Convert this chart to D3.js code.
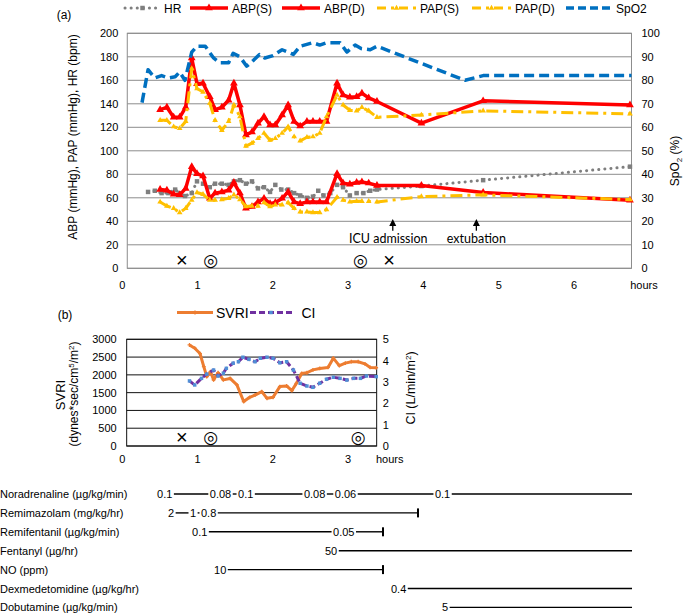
<!DOCTYPE html>
<html><head><meta charset="utf-8">
<script src="https://cdn.jsdelivr.net/npm/d3@7"></script>
<style>
body{margin:0;background:#fff}
svg{display:block;font-family:"Liberation Sans",Arial,sans-serif}
</style>
</head><body>
<svg id="c" width="685" height="613"></svg>
<script>
// ---------- DATA ----------
const xTicks = [0, 1, 2, 3, 4, 5, 6];
const xTicksB = [0, 1, 2, 3];
const yTicksA = [0, 20, 40, 60, 80, 100, 120, 140, 160, 180, 200];
const yTicksA2 = [0, 10, 20, 30, 40, 50, 60, 70, 80, 90, 100];
const yTicksB = [0, 500, 1000, 1500, 2000, 2500, 3000];
const yTicksB2 = [0, 1, 2, 3, 4, 5];

const hrTime = [0.35,0.44,0.53,0.62,0.71,0.77,0.84,0.93,1.00,1.08,1.17,1.24,1.33,1.42,1.49,1.57,1.65,1.73,1.81,1.89,1.97,2.04,2.12,2.21,2.29,2.37,2.46,2.54,2.61,2.68,2.77,2.86,2.94,3.03,3.12,3.21,3.30,3.39,3.98,4.80,6.75];
const hrValue = [65,66,64,64,67,64,61.5,64,74,72,69,72,72,71,74,75,72,74,68,69,65,71,67,67,64,62,60,61,66,62,64,71,69,62,64,64,66,67,70,75,86.5];

const abpTime = [0.51,0.60,0.69,0.77,0.85,0.93,1.00,1.08,1.17,1.24,1.33,1.42,1.49,1.57,1.65,1.73,1.81,1.89,1.97,2.04,2.13,2.21,2.29,2.37,2.46,2.54,2.63,2.72,2.86,2.94,3.03,3.12,3.19,3.28,3.39,3.98,4.80,6.75];
const abpSys = [135,137,128.5,128.5,137,179,157,157.5,146,135,137,143,157.5,139,113.5,116,123.5,129,122,122,130.5,139,125,121,125,125,125,125,157.5,147.5,145.5,146,149,145,142,123.5,142.5,139];
const abpDia = [67,66.5,63,62.5,68,86.5,80.5,78.5,59.5,64,65,66.5,73,64,51,52.5,56.5,59.5,55,56,59.5,65,56.5,55,56.5,56.5,56.5,56.5,80.5,72.5,71.5,73,73.5,72.5,70.5,70.5,64.5,58];
const papSys = [126,126,120.5,119,125,170,153,150,140.5,126,117.5,125,139,129,104,106.5,110.5,115,109,110.5,115,120.5,112,108.5,111.5,112,115,129,147.5,139,134.5,134,137,134,128.5,130.5,134,131.5];
const papDia = [56.5,53,51,47.5,51,58,64.5,63,58,58,58.5,59.5,62.5,58.5,52.5,53,53,56,52.5,54,54,56,51,48,48,47.5,47.5,50,60.5,58,56.5,57,57,57,56.5,61,62.5,58.5];

const spo2Time = [0.27,0.35,0.44,0.53,0.62,0.71,0.77,0.84,0.93,1.00,1.11,1.22,1.30,1.42,1.48,1.57,1.66,1.75,1.83,1.90,2.01,2.13,2.28,2.37,2.54,2.63,2.72,2.90,2.99,3.10,3.18,3.30,3.39,4.56,4.80,6.77];
const spo2Value = [70.5,84.5,81,82,81,81.5,83.5,80,92,94.5,94.5,89.5,87.5,87.5,91.5,90,86,88.5,91,89.5,90.5,93,91,94.5,96,95,96,96,92,95,93.5,93,94.5,80,82,82];

const svriTime = [0.90,0.97,1.04,1.09,1.13,1.18,1.22,1.28,1.35,1.44,1.53,1.62,1.70,1.77,1.86,1.93,2.01,2.10,2.19,2.26,2.32,2.39,2.46,2.54,2.63,2.74,2.81,2.89,2.97,3.05,3.14,3.23,3.30,3.38];
const svriValue = [2840,2750,2600,2230,1950,2090,1860,2060,1860,1900,1720,1250,1370,1430,1530,1340,1370,1670,1690,1560,1760,2040,2060,2140,2180,2210,2470,2260,2330,2370,2370,2310,2210,2200];
const ciTime = [0.90,0.97,1.06,1.13,1.22,1.28,1.35,1.39,1.48,1.55,1.61,1.69,1.77,1.84,1.93,2.01,2.10,2.19,2.28,2.37,2.46,2.54,2.63,2.72,2.81,2.90,2.99,3.08,3.17,3.25,3.38];
const ciValue = [3.05,2.86,3.17,3.37,3.56,3.28,3.41,3.64,3.88,3.95,4.16,4.06,3.95,4.11,4.16,4.11,3.90,3.95,3.56,2.94,2.81,2.75,2.94,3.13,3.22,3.17,3.09,3.17,3.17,3.28,3.25];

// event markers (time)
const crossTimesA = [0.80, 3.55];
const circleTimesA = [1.18, 3.17];
const crossTimesB = [0.80];
const circleTimesB = [1.18, 3.14];
const eventLabels = ["ICU admission", "extubation"];
const eventTimes = [3.60, 4.71];

// drug timeline
const drugNames = ["Noradrenaline (\u00b5g/kg/min)","Remimazolam (mg/kg/hr)","Remifentanil (\u00b5g/kg/min)","Fentanyl (\u00b5g/hr)","NO (ppm)","Dexmedetomidine (\u00b5g/kg/hr)","Dobutamine (\u00b5g/kg/min)"];
const drugDoses = [["0.1","0.08","0.1","0.08","0.06","0.1"],["2","1","0.8"],["0.1","0.05"],["50"],["10"],["0.4"],["5"]];
const drugDoseTimes = [[0.47,1.17,1.545,2.42,2.83,4.16],[0.615,0.907,1.053],[0.934,2.807],[2.70],[1.226],[3.576],[4.254]];
const drugEndTimes = [6.777,3.935,3.47,6.777,3.47,6.777,6.777];
const drugStopped = [false,true,true,false,true,false,false];

// ---------- DRAW ----------
const svg = d3.select("#c");
const FONT = '"Liberation Sans",Arial,sans-serif';
const x = d3.scaleLinear().domain([0, 7]).range([121.7, 648.8]);
const fmt = d3.format("d");

const colHR = "#7f7f7f", colABP = "#ff0000", colPAP = "#ffc000", colSpO2 = "#0070c0";
const colSVRI = "#ed7d31", colCI = "#7030a0", colCImk = "#4f8fd6";

// ===== Panel (a) =====
const A = {l: x(0.074), r: x(6.77), t: 33.3, b: 268.3};
const yA = d3.scaleLinear().domain([0, 200]).range([A.b, A.t]);
const yA2 = d3.scaleLinear().domain([0, 100]).range([A.b, A.t]);

const gA = svg.append("g");
gA.selectAll("line.grid").data(yTicksA).join("line")
  .attr("x1", A.l).attr("x2", A.r).attr("y1", d => yA(d)).attr("y2", d => yA(d))
  .attr("stroke", "#8c8c8c").attr("stroke-width", 1);
gA.append("rect").attr("x", A.l).attr("y", A.t).attr("width", A.r - A.l).attr("height", A.b - A.t)
  .attr("fill", "none").attr("stroke", "#8c8c8c").attr("stroke-width", 1);

function styleAxis(g, size) {
  g.select(".domain").remove();
  g.selectAll(".tick line").remove();
  g.selectAll("text").attr("font-family", FONT).attr("font-size", size).attr("fill", "#000");
}
gA.append("g").attr("transform", `translate(${A.l},0)`)
  .call(d3.axisLeft(yA).tickValues(yTicksA).tickFormat(fmt).tickSize(0).tickPadding(9)).call(g => styleAxis(g, 11));
gA.append("g").attr("transform", `translate(${A.r},0)`)
  .call(d3.axisRight(yA2).tickValues(yTicksA2).tickFormat(fmt).tickSize(0).tickPadding(10)).call(g => styleAxis(g, 11));
gA.append("g").attr("transform", `translate(0,${A.b})`)
  .call(d3.axisBottom(x).tickValues(xTicks).tickFormat(fmt).tickSize(0).tickPadding(13)).call(g => styleAxis(g, 11));
gA.append("text").attr("x", A.r + 12.5).attr("y", 289).attr("text-anchor", "middle")
  .attr("font-size", 11).text("hours");

// titles
gA.append("text").attr("transform", "translate(77,137) rotate(-90)").attr("text-anchor", "middle")
  .attr("font-size", 12).text("ABP (mmHg), PAP (mmHg), HR (bpm)");
const spT = gA.append("text").attr("transform", "translate(679,161) rotate(-90)").attr("text-anchor", "middle")
  .attr("font-size", 12);
spT.append("tspan").text("SpO");
spT.append("tspan").attr("font-size", 8).attr("dy", 3).text("2");
spT.append("tspan").attr("dy", -3).text(" (%)");
gA.append("text").attr("x", 64).attr("y", 19).attr("text-anchor", "middle").attr("font-size", 12).text("(a)");

const zip = (t, v) => t.map((d, i) => [d, v[i]]);
const lineA = d3.line().x(d => x(d[0])).y(d => yA(d[1]));
const lineA2 = d3.line().x(d => x(d[0])).y(d => yA2(d[1]));

function series(g, pts, gen, opt) {
  g.append("path").datum(pts).attr("d", gen).attr("fill", "none")
    .attr("stroke", opt.color).attr("stroke-width", opt.width)
    .attr("stroke-dasharray", opt.dash || null).attr("stroke-linecap", opt.cap || "butt")
    .attr("stroke-linejoin", "round");
  if (opt.symbol) {
    g.selectAll(null).data(pts).join("path")
      .attr("transform", d => `translate(${gen.x()(d)},${gen.y()(d)})`)
      .attr("d", d3.symbol(opt.symbol, opt.size)).attr("fill", opt.mcolor || opt.color);
  }
}
series(gA, zip(hrTime, hrValue), lineA, {color: colHR, width: 3, dash: "0.1,6", cap: "round", symbol: d3.symbolSquare, size: 20});
series(gA, zip(abpTime, abpSys), lineA, {color: colABP, width: 3.5, symbol: d3.symbolTriangle, size: 26});
series(gA, zip(abpTime, abpDia), lineA, {color: colABP, width: 3.5, symbol: d3.symbolTriangle, size: 26});
series(gA, zip(abpTime, papSys), lineA, {color: colPAP, width: 3, dash: "12,5,3,5", symbol: d3.symbolTriangle, size: 14});
series(gA, zip(abpTime, papDia), lineA, {color: colPAP, width: 3, dash: "12,5,3,5", symbol: d3.symbolTriangle, size: 14});
series(gA, zip(spo2Time, spo2Value), lineA2, {color: colSpO2, width: 3.5, dash: "10,5"});

// event arrows
eventTimes.forEach(t => {
  const ax = x(t);
  gA.append("line").attr("x1", ax).attr("x2", ax).attr("y1", yA(32)).attr("y2", yA(38))
    .attr("stroke", "#000").attr("stroke-width", 1.3);
  gA.append("path").attr("d", `M${ax},${yA(42)} L${ax - 3.5},${yA(36)} L${ax + 3.5},${yA(36)} Z`).attr("fill", "#000");
});
gA.append("text").attr("x", x(3.54)).attr("y", yA(21.5)).attr("text-anchor", "middle")
  .attr("font-family", "Lato, 'Open Sans', sans-serif").attr("font-size", 12.5).text(eventLabels[0]);
gA.append("text").attr("x", x(4.71)).attr("y", yA(21.5)).attr("text-anchor", "middle")
  .attr("font-family", "Lato, 'Open Sans', sans-serif").attr("font-size", 12.5).text(eventLabels[1]);

function marks(g, times, yPos, ch, font, size) {
  g.selectAll(null).data(times).join("text")
    .attr("x", d => x(d)).attr("y", yPos).attr("text-anchor", "middle").attr("dominant-baseline", "central")
    .attr("font-family", font).attr("font-size", size).text(ch);
}
marks(gA, crossTimesA, yA(7), "\u00d7", FONT, 20);
marks(gA, circleTimesA, yA(7), "\u25ce", "'DejaVu Sans','Noto Sans CJK JP'", 17);

// legend (a)
const legA = svg.append("g");
const legItems = [
  {name: "HR", x0: 125, x1: 160, color: colHR, w: 3, dash: "0.1,6", cap: "round", sym: d3.symbolSquare, size: 20},
  {name: "ABP(S)", x0: 190, x1: 228, color: colABP, w: 3.5, sym: d3.symbolTriangle, size: 26},
  {name: "ABP(D)", x0: 282, x1: 320, color: colABP, w: 3.5, sym: d3.symbolTriangle, size: 26},
  {name: "PAP(S)", x0: 377, x1: 416, color: colPAP, w: 3, dash: "9,5,3,5", sym: d3.symbolTriangle, size: 14},
  {name: "PAP(D)", x0: 472, x1: 511, color: colPAP, w: 3, dash: "9,5,3,5", sym: d3.symbolTriangle, size: 14},
  {name: "SpO2", x0: 566, x1: 612, color: colSpO2, w: 3.5, dash: "8,4"}
];
legItems.forEach(it => {
  legA.append("line").attr("x1", it.x0).attr("x2", it.x1).attr("y1", 8).attr("y2", 8)
    .attr("stroke", it.color).attr("stroke-width", it.w).attr("stroke-dasharray", it.dash || null)
    .attr("stroke-linecap", it.cap || "butt");
  if (it.sym) legA.append("path").attr("transform", `translate(${(it.x0 + it.x1) / 2},8)`)
    .attr("d", d3.symbol(it.sym, it.size)).attr("fill", it.color);
  legA.append("text").attr("x", it.x1 + 4).attr("y", 12.5).attr("font-size", 12).text(it.name);
});

// ===== Panel (b) =====
const B = {l: x(0.066), r: x(3.386), t: 339.3, b: 446};
const yB = d3.scaleLinear().domain([0, 3000]).range([B.b, B.t]);
const yB2 = d3.scaleLinear().domain([0, 5]).range([B.b, B.t]);
const gB = svg.append("g");
gB.selectAll("line.grid").data(yTicksB).join("line")
  .attr("x1", B.l).attr("x2", B.r).attr("y1", d => yB(d)).attr("y2", d => yB(d))
  .attr("stroke", "#111").attr("stroke-width", 1);
gB.append("rect").attr("x", B.l).attr("y", B.t).attr("width", B.r - B.l).attr("height", B.b - B.t)
  .attr("fill", "none").attr("stroke", "#111").attr("stroke-width", 1);
gB.append("g").attr("transform", `translate(${B.l},0)`)
  .call(d3.axisLeft(yB).tickValues(yTicksB).tickFormat(fmt).tickSize(0).tickPadding(10)).call(g => styleAxis(g, 11));
gB.append("g").attr("transform", `translate(${B.r},0)`)
  .call(d3.axisRight(yB2).tickValues(yTicksB2).tickFormat(fmt).tickSize(0).tickPadding(6)).call(g => styleAxis(g, 11));
gB.append("g").attr("transform", `translate(0,${B.b})`)
  .call(d3.axisBottom(x).tickValues(xTicksB).tickFormat(fmt).tickSize(0).tickPadding(9.5)).call(g => styleAxis(g, 11));
gB.append("text").attr("x", B.r + 13).attr("y", 463).attr("text-anchor", "middle").attr("font-size", 11).text("hours");

gB.append("text").attr("x", 65).attr("y", 319).attr("text-anchor", "middle").attr("font-size", 12).text("(b)");
gB.append("text").attr("transform", "translate(64.5,395) rotate(-90)").attr("text-anchor", "middle")
  .attr("font-size", 13).text("SVRI");
const dT = gB.append("text").attr("transform", "translate(78,394) rotate(-90)").attr("text-anchor", "middle")
  .attr("font-size", 12);
dT.append("tspan").text("(dynes*sec/cm");
dT.append("tspan").attr("font-size", 8).attr("dy", -4).text("5");
dT.append("tspan").attr("dy", 4).text("/m");
dT.append("tspan").attr("font-size", 8).attr("dy", -4).text("2");
dT.append("tspan").attr("dy", 4).text(")");
const cT = gB.append("text").attr("transform", "translate(414.5,388) rotate(-90)").attr("text-anchor", "middle")
  .attr("font-size", 12.5);
cT.append("tspan").text("CI (L/min/m");
cT.append("tspan").attr("font-size", 8).attr("dy", -4).text("2");
cT.append("tspan").attr("dy", 4).text(")");

const lineB = d3.line().x(d => x(d[0])).y(d => yB(d[1]));
const lineB2 = d3.line().x(d => x(d[0])).y(d => yB2(d[1]));
series(gB, zip(svriTime, svriValue), lineB, {color: colSVRI, width: 3, symbol: d3.symbolCross, size: 8});
series(gB, zip(ciTime, ciValue), lineB2, {color: colCI, width: 3, dash: "6,3", symbol: d3.symbolSquare, size: 12, mcolor: colCImk});

marks(gB, crossTimesB, yB(245), "\u00d7", FONT, 20);
marks(gB, circleTimesB, yB(245), "\u25ce", "'DejaVu Sans','Noto Sans CJK JP'", 17);

// legend (b)
gB.append("line").attr("x1", 177).attr("x2", 213).attr("y1", 312.5).attr("y2", 312.5)
  .attr("stroke", colSVRI).attr("stroke-width", 3);
gB.append("path").attr("transform", "translate(195,312.5)").attr("d", d3.symbol(d3.symbolCross, 10)).attr("fill", colSVRI);
gB.append("text").attr("x", 216).attr("y", 317.5).attr("font-size", 14).text("SVRI");
gB.append("line").attr("x1", 250).attr("x2", 293).attr("y1", 312.5).attr("y2", 312.5)
  .attr("stroke", colCI).attr("stroke-width", 3).attr("stroke-dasharray", "6,3");
gB.append("path").attr("transform", "translate(271,312.5)").attr("d", d3.symbol(d3.symbolSquare, 12)).attr("fill", colCImk);
gB.append("text").attr("x", 301.5).attr("y", 317.5).attr("font-size", 14).text("CI");

// ===== Drug timeline =====
const gD = svg.append("g");
drugNames.forEach((name, i) => {
  const cy = 494 + i * 18.9;
  gD.append("text").attr("x", 0).attr("y", cy + 4).attr("font-size", 11).text(name);
  const labels = drugDoses[i].map((dose, j) => {
    const tx = gD.append("text").attr("x", x(drugDoseTimes[i][j])).attr("y", cy + 4)
      .attr("font-size", 11).text(dose);
    return {x0: x(drugDoseTimes[i][j]), w: tx.node().getComputedTextLength()};
  });
  labels.forEach((lb, j) => {
    const start = lb.x0 + lb.w + 1.5;
    const end = j < labels.length - 1 ? labels[j + 1].x0 - 1.5 : x(drugEndTimes[i]);
    gD.append("line").attr("x1", start).attr("x2", end).attr("y1", cy).attr("y2", cy)
      .attr("stroke", "#000").attr("stroke-width", 1.4);
  });
  if (drugStopped[i]) {
    const ex = x(drugEndTimes[i]);
    gD.append("line").attr("x1", ex).attr("x2", ex).attr("y1", cy - 4.5).attr("y2", cy + 4.5)
      .attr("stroke", "#000").attr("stroke-width", 2);
  }
});
</script>
</body></html>
